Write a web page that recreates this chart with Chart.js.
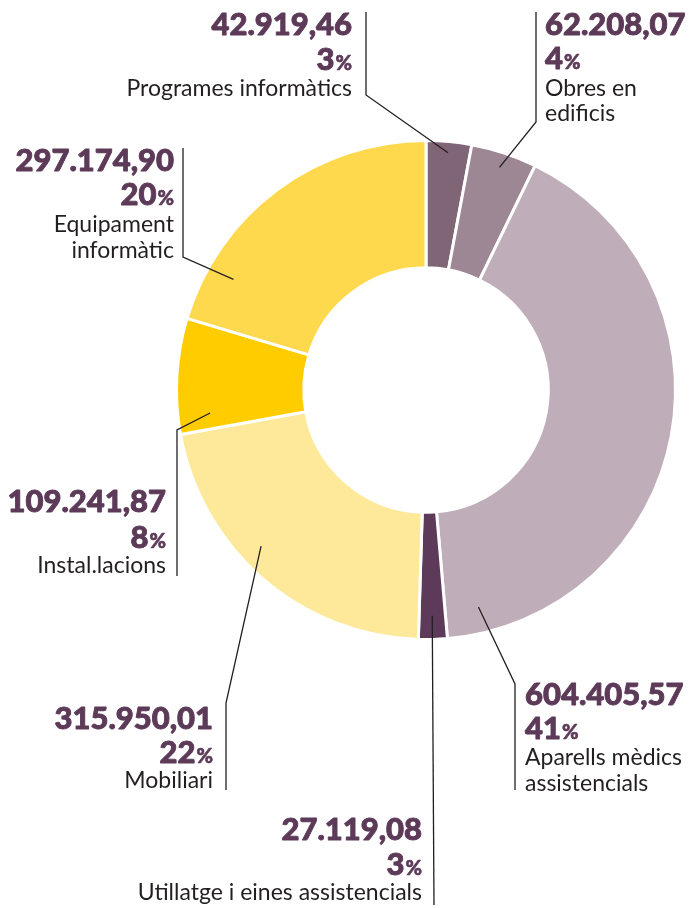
<!DOCTYPE html>
<html>
<head>
<meta charset="utf-8">
<script src="https://cdn.jsdelivr.net/npm/chart.js@4/dist/chart.umd.min.js"></script>
<style>
  html, body { margin: 0; padding: 0; background: #ffffff; }
  #wrap { width: 691px; height: 908px; position: relative; }
</style>
</head>
<body>
<div id="wrap"><canvas id="c" width="691" height="908"></canvas></div>
<script>
// ---- DATA ----
const categories = [
  ["Programes informàtics"],
  ["Obres en", "edificis"],
  ["Aparells mèdics", "assistencials"],
  ["Utillatge i eines assistencials"],
  ["Mobiliari"],
  ["Instal.lacions"],
  ["Equipament", "informàtic"]
];
const values = [42919.46, 62208.07, 604405.57, 27119.08, 315950.01, 109241.87, 297174.90];
const valueLabels = ["42.919,46", "62.208,07", "604.405,57", "27.119,08", "315.950,01", "109.241,87", "297.174,90"];
const percentLabels = ["3", "4", "41", "3", "22", "8", "20"];
const colors = ["#806577", "#9d8795", "#bfaeb9", "#5e3a5a", "#fee99b", "#ffcc00", "#ffd94d"];

// ---- LAYOUT (styling only) ----
const layout = [
  { af: 0.5,  rf: 0.955, pts: [[366, 95], [366, 12]],   tx: 352, align: "right", base: [35, 70, 96] },
  { af: 0.5,  rf: 0.94,  pts: [[536, 122], [536, 12]],  tx: 545, align: "left",  base: [35, 69, 96, 121] },
  { af: 0.942,rf: 0.895, pts: [[515, 684], [515, 790]], tx: 525, align: "left",  base: [705, 739, 765, 791] },
  { af: 0.5,  rf: 0.905, pts: [[434, 905]],             tx: 422, align: "right", base: [840, 875, 900] },
  { af: 0.575,rf: 0.91,  pts: [[226, 703], [226, 790]], tx: 213, align: "right", base: [729, 763, 788] },
  { af: 0.156,rf: 0.87,  pts: [[177, 430], [177, 576]], tx: 166, align: "right", base: [512, 548, 573] },
  { af: 0.18, rf: 0.89,  pts: [[183, 257], [183, 148]], tx: 174, align: "right", base: [171, 205, 232, 258] }
];

const FONT = "Lato, 'Open Sans', sans-serif";
const VALUE_COLOR = "#5c3a58";
const TEXT_COLOR = "#231f20";

function heavyText(ctx, s, x, y) {
  ctx.fillText(s, x, y);
  ctx.strokeText(s, x, y);
}

const labelsPlugin = {
  id: "leaderLabels",
  afterDatasetsDraw(chart) {
    const ctx = chart.ctx;
    const meta = chart.getDatasetMeta(0);
    meta.data.forEach((arc, i) => {
      const p = arc.getProps(["x", "y", "startAngle", "endAngle", "outerRadius"], true);
      const L = layout[i];
      const a = p.startAngle + L.af * (p.endAngle - p.startAngle);
      const r = L.rf * p.outerRadius;
      const ax = p.x + r * Math.cos(a);
      const ay = p.y + r * Math.sin(a);
      ctx.save();
      ctx.strokeStyle = TEXT_COLOR;
      ctx.lineWidth = 1.3;
      ctx.beginPath();
      ctx.moveTo(ax, ay);
      L.pts.forEach(q => ctx.lineTo(q[0], q[1]));
      ctx.stroke();

      ctx.textBaseline = "alphabetic";
      ctx.fillStyle = VALUE_COLOR;
      ctx.strokeStyle = VALUE_COLOR;
      ctx.lineWidth = 0.9;
      ctx.lineJoin = "round";
      const numFont = "900 31px " + FONT;
      const pctFont = "900 20px " + FONT;
      ctx.font = numFont;
      ctx.textAlign = L.align;
      heavyText(ctx, valueLabels[i], L.tx, L.base[0]);

      ctx.textAlign = "left";
      ctx.font = numFont;
      const wn = ctx.measureText(percentLabels[i]).width;
      ctx.font = pctFont;
      const wp = ctx.measureText("%").width;
      const x0 = L.align === "right" ? L.tx - wn - wp - 1 : L.tx;
      ctx.font = numFont;
      heavyText(ctx, percentLabels[i], x0, L.base[1]);
      ctx.font = pctFont;
      ctx.lineWidth = 0.6;
      heavyText(ctx, "%", x0 + wn + 1, L.base[1]);

      ctx.fillStyle = TEXT_COLOR;
      ctx.font = "23px " + FONT;
      ctx.textAlign = L.align;
      categories[i].forEach((line, k) => {
        ctx.fillText(line, L.tx, L.base[2 + k]);
      });
      ctx.restore();
    });
  }
};

new Chart(document.getElementById("c"), {
  type: "doughnut",
  data: {
    labels: categories.map(c => c.join(" ")),
    datasets: [{
      data: values,
      backgroundColor: colors,
      borderColor: "#ffffff",
      borderWidth: 3,
      hoverOffset: 0
    }]
  },
  options: {
    responsive: false,
    animation: false,
    cutout: "49%",
    layout: { padding: { left: 175, right: 14, top: 139, bottom: 267 } },
    plugins: { legend: { display: false }, tooltip: { enabled: false } },
    events: []
  },
  plugins: [labelsPlugin]
});
</script>
</body>
</html>
